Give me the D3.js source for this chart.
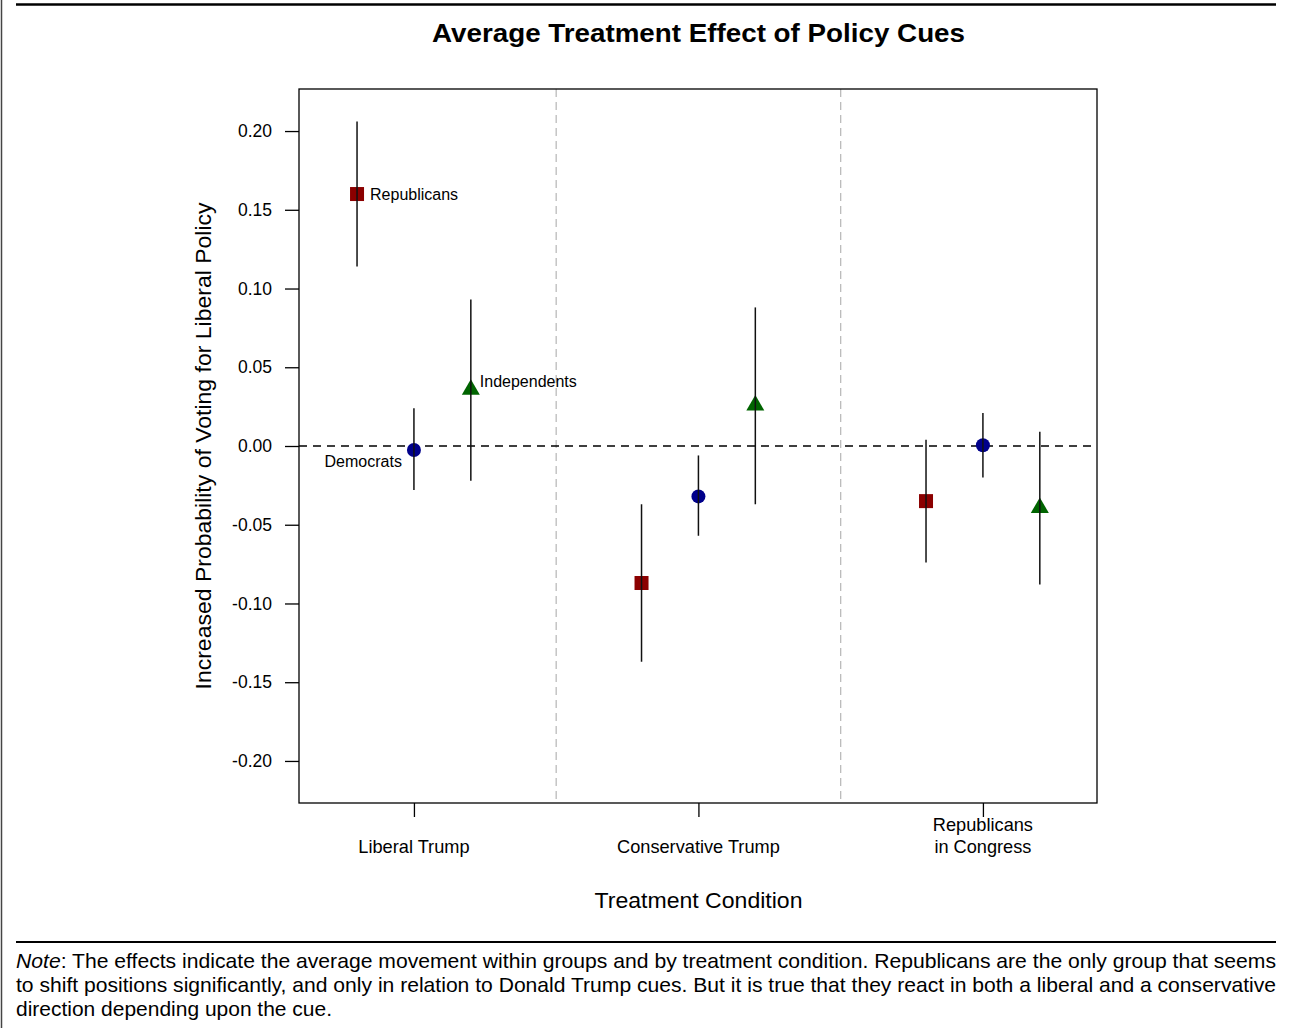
<!DOCTYPE html>
<html>
<head>
<meta charset="utf-8">
<script src="https://cdn.jsdelivr.net/npm/d3@7"></script>
<style>
  body { margin: 0; background: #fff; }
  svg { display: block; font-family: "Liberation Sans", Arial, Helvetica, sans-serif; }
</style>
</head>
<body>
<svg id="chart" width="1289" height="1028"></svg>
<script>
// ---- Data ----
const conditions = ["Liberal Trump", "Conservative Trump", "Republicans in Congress"];
const conditionLabels = [["Liberal Trump"], ["Conservative Trump"], ["Republicans", "in Congress"]];
const groups = ["Republicans", "Democrats", "Independents"];
const yTicks = [0.20, 0.15, 0.10, 0.05, 0.00, -0.05, -0.10, -0.15, -0.20];

// point estimates by group, one value per condition
const republicansEst = [0.160, -0.087, -0.035];
const democratsEst   = [-0.0025, -0.032, 0.0005];
const independentsEst = [0.036, 0.026, -0.039];
// confidence interval bounds
const republicansLo = [0.114, -0.137, -0.074];
const republicansHi = [0.206, -0.037, 0.004];
const democratsLo = [-0.028, -0.057, -0.020];
const democratsHi = [0.024, -0.006, 0.021];
const independentsLo = [-0.022, -0.037, -0.088];
const independentsHi = [0.093, 0.088, 0.009];

const series = [
  {name: "Republicans", est: republicansEst, lo: republicansLo, hi: republicansHi, color: "#8b0000", shape: "square"},
  {name: "Democrats", est: democratsEst, lo: democratsLo, hi: democratsHi, color: "#00008b", shape: "circle"},
  {name: "Independents", est: independentsEst, lo: independentsLo, hi: independentsHi, color: "#006400", shape: "triangle"}
];

// ---- Layout ----
const svg = d3.select("#chart");
const plot = {left: 299, right: 1097, top: 89, bottom: 803};

const x = d3.scaleLinear().domain([0.596, 3.401]).range([plot.left, plot.right]);
const y = d3.scaleLinear().domain([-0.2267, 0.2267]).range([plot.bottom, plot.top]);
const offset = 0.2;

// outer decoration
svg.append("line").attr("x1", 1.5).attr("x2", 1.5).attr("y1", 0).attr("y2", 1028)
  .attr("stroke", "#444").attr("stroke-width", 1.5);
svg.append("line").attr("x1", 16).attr("x2", 1276).attr("y1", 4.5).attr("y2", 4.5)
  .attr("stroke", "#000").attr("stroke-width", 2.5);
svg.append("line").attr("x1", 16).attr("x2", 1276).attr("y1", 942).attr("y2", 942)
  .attr("stroke", "#000").attr("stroke-width", 2);

// title
svg.append("text").attr("x", 698.5).attr("y", 42).attr("text-anchor", "middle")
  .attr("font-size", 26.5).attr("font-weight", "bold")
  .attr("textLength", 533).attr("lengthAdjust", "spacingAndGlyphs")
  .text("Average Treatment Effect of Policy Cues");

// vertical dividers
[1.5, 2.5].forEach(v => {
  svg.append("line").attr("x1", x(v)).attr("x2", x(v)).attr("y1", plot.top).attr("y2", plot.bottom)
    .attr("stroke", "#bbb").attr("stroke-width", 1.3).attr("stroke-dasharray", "8,5");
});

// zero line
svg.append("line").attr("x1", plot.left).attr("x2", plot.right).attr("y1", y(0)).attr("y2", y(0))
  .attr("stroke", "#000").attr("stroke-width", 1.3).attr("stroke-dasharray", "8,6");

// box
svg.append("rect").attr("x", plot.left).attr("y", plot.top)
  .attr("width", plot.right - plot.left).attr("height", plot.bottom - plot.top)
  .attr("fill", "none").attr("stroke", "#000").attr("stroke-width", 1.3);

// y axis
const fmt = d3.format(".2f");
const yAxis = d3.axisLeft(y).tickValues(yTicks).tickSize(14).tickPadding(13)
  .tickFormat(d => fmt(d).replace("\u2212", "-"));
const gy = svg.append("g").attr("transform", `translate(${plot.left},0)`).call(yAxis);
gy.select(".domain").remove();
gy.selectAll(".tick line").attr("stroke", "#000").attr("stroke-width", 1.3);
gy.selectAll(".tick text").attr("font-size", 17.5).attr("fill", "#000")
  .attr("font-family", "Liberation Sans, Arial, sans-serif");

// x axis
const xAxis = d3.axisBottom(x).tickValues([1, 2, 3]).tickSize(14).tickFormat("");
const gx = svg.append("g").attr("transform", `translate(0,${plot.bottom})`).call(xAxis);
gx.select(".domain").remove();
gx.selectAll(".tick line").attr("stroke", "#000").attr("stroke-width", 1.3);

conditionLabels.forEach((lines, i) => {
  const t = svg.append("text").attr("text-anchor", "middle").attr("font-size", 18.2);
  const startY = lines.length === 1 ? 853 : 831;
  lines.forEach((ln, j) => {
    t.append("tspan").attr("x", x(i + 1)).attr("y", startY + j * 22).text(ln);
  });
});

// axis titles
svg.append("text").attr("x", 698.5).attr("y", 908).attr("text-anchor", "middle")
  .attr("font-size", 22.5).attr("textLength", 208).attr("lengthAdjust", "spacingAndGlyphs")
  .text("Treatment Condition");
svg.append("text").attr("transform", `translate(211,${y(0)}) rotate(-90)`)
  .attr("text-anchor", "middle").attr("font-size", 22)
  .attr("textLength", 487).attr("lengthAdjust", "spacingAndGlyphs")
  .text("Increased Probability of Voting for Liberal Policy");

// points and CIs
series.forEach((s, gi) => {
  const g = svg.append("g");
  conditions.forEach((c, ci) => {
    const cx = x(ci + 1 + (gi - 1) * offset);
    const cy = y(s.est[ci]);
    if (s.shape === "square") {
      g.append("rect").attr("x", cx - 7).attr("y", cy - 7).attr("width", 14).attr("height", 14).attr("fill", s.color);
    } else if (s.shape === "circle") {
      g.append("circle").attr("cx", cx).attr("cy", cy).attr("r", 7).attr("fill", s.color);
    } else {
      g.append("path").attr("d", `M${cx},${cy - 10}L${cx + 9},${cy + 5.5}L${cx - 9},${cy + 5.5}Z`).attr("fill", s.color);
    }
    g.append("line").attr("x1", cx).attr("x2", cx).attr("y1", y(s.hi[ci])).attr("y2", y(s.lo[ci]))
      .attr("stroke", "#111").attr("stroke-width", 1.5);
  });
});

// group labels (only for first condition)
svg.append("text").attr("x", x(1 - offset) + 13).attr("y", y(republicansEst[0]) + 5.5)
  .attr("font-size", 16).text("Republicans");
svg.append("text").attr("x", x(1 + offset) + 9).attr("y", y(independentsEst[0]) - 2)
  .attr("font-size", 16).text("Independents");
svg.append("text").attr("x", x(1) - 12).attr("y", y(democratsEst[0]) + 17)
  .attr("text-anchor", "end").attr("font-size", 16).text("Democrats");

// note
const noteLines = [
  {parts: [["Note", true], [": The effects indicate the average movement within groups and by treatment condition. Republicans are the only group that seems", false]], len: 1260},
  {parts: [["to shift positions significantly, and only in relation to Donald Trump cues. But it is true that they react in both a liberal and a conservative", false]], len: 1260},
  {parts: [["direction depending upon the cue.", false]], len: 316}
];
noteLines.forEach((ln, i) => {
  const t = svg.append("text").attr("x", 16).attr("y", 968 + i * 24).attr("font-size", 20.3)
    .attr("textLength", ln.len).attr("lengthAdjust", "spacingAndGlyphs");
  ln.parts.forEach(p => {
    const ts = t.append("tspan").text(p[0]);
    if (p[1]) ts.attr("font-style", "italic");
  });
});
</script>
</body>
</html>
